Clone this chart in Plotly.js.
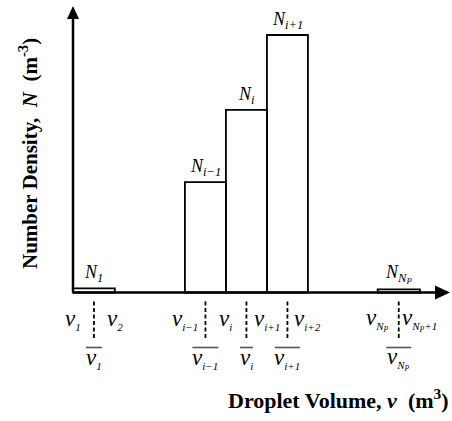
<!DOCTYPE html>
<html>
<head>
<meta charset="utf-8">
<script src="https://cdn.plot.ly/plotly-3.0.1.min.js"></script>
<style>html,body{margin:0;padding:0;background:#fff;}#chart{width:452px;height:421px;}</style>
</head>
<body>
<div id="chart"></div>
<script>
// ---- data (arbitrary units) ----
const binNames   = ['N_1', 'N_{i-1}', 'N_i', 'N_{i+1}', 'N_{N_p}'];
const binLeft    = [0, 2.73, 3.73, 4.73, 7.43];
const binWidth   = [1.02, 1.0, 1.0, 1.0, 1.03];
const binHeight  = [0.16, 4.29, 7.09, 10.0, 0.12];
const edgeX      = [0, 1.02, 2.73, 3.73, 4.73, 5.73, 7.43, 8.46];
const edgeNames  = ['v_1', 'v_2', 'v_{i-1}', 'v_i', 'v_{i+1}', 'v_{i+2}', 'v_{N_p}', 'v_{N_p+1}'];
const meanBins   = [0, 1, 2, 3, 4];            // indices of bins with a mean-volume label
const meanNames  = ['v_1', 'v_{i-1}', 'v_i', 'v_{i+1}', 'v_{N_p}'];

// ---- label html ----
const SUBF = 'font-size:11px';
const labelHtml = {
  'N_1': '<i>N</i><sub><i>1</i></sub>',
  'N_{i-1}': '<i>N</i><sub><i>i−1</i></sub>',
  'N_i': '<i>N</i><sub><i>i</i></sub>',
  'N_{i+1}': '<i>N</i><sub><i>i+1</i></sub>',
  'N_{N_p}': '<i>N</i><sub><i>N</i><sub><i>P</i></sub></sub>',
  'v_1': '<i>v</i><sub><span style="'+SUBF+'"><i>1</i></span></sub>',
  'v_2': '<i>v</i><sub><span style="'+SUBF+'"><i>2</i></span></sub>',
  'v_{i-1}': '<i>v</i><sub><span style="'+SUBF+'"><i>i−1</i></span></sub>',
  'v_i': '<i>v</i><sub><span style="'+SUBF+'"><i>i</i></span></sub>',
  'v_{i+1}': '<i>v</i><sub><span style="'+SUBF+'"><i>i+1</i></span></sub>',
  'v_{i+2}': '<i>v</i><sub><span style="'+SUBF+'"><i>i+2</i></span></sub>',
  'v_{N_p}': '<i>v</i><sub><span style="'+SUBF+'"><i>N</i><sub><i>P</i></sub></span></sub>',
  'v_{N_p+1}': '<i>v</i><sub><span style="'+SUBF+'"><i>N</i><sub><i>P</i></sub><i>+1</i></span></sub>'
};

// ---- geometry of the drawing (pixel mapping) ----
const W = 452, H = 421;
const X0PX = 73, Y0PX = 292.5, PXX = 41, PXY = 25.75;
const xRange = [-X0PX / PXX, (W - X0PX) / PXX];
const yRange = [-(H - Y0PX) / PXY, Y0PX / PXY];
const xTip = (450 - X0PX) / PXX;
const yTip = (Y0PX - 6) / PXY;
const overlineW = [16, 26, 13, 25, 25];

const centers = binLeft.map((l, i) => l + binWidth[i] / 2);

const trace = {
  type: 'bar',
  x: centers,
  y: binHeight,
  width: binWidth,
  base: 0,
  marker: {color: 'rgba(255,255,255,0)', line: {color: '#000', width: 1.8}},
  hoverinfo: 'skip'
};

const FONT = 'Liberation Serif, Times New Roman, serif';
const annotations = [];
binNames.forEach((n, i) => {
  annotations.push({x: centers[i], y: binHeight[i], xref: 'x', yref: 'y', text: labelHtml[n],
    showarrow: false, yanchor: 'bottom', xanchor: 'center', yshift: 1,
    font: {family: FONT, size: 18, color: '#000'}});
});
edgeNames.forEach((n, i) => {
  annotations.push({x: edgeX[i], y: 0, xref: 'x', yref: 'y', text: labelHtml[n],
    showarrow: false, yanchor: 'middle', xanchor: 'center', yshift: -27,
    font: {family: FONT, size: 23, color: '#000'}});
});
meanNames.forEach((n, k) => {
  annotations.push({x: centers[meanBins[k]], y: 0, xref: 'x', yref: 'y', text: labelHtml[n],
    showarrow: false, yanchor: 'middle', xanchor: 'center', yshift: -66,
    font: {family: FONT, size: 23, color: '#000'}});
});
annotations.push({x: 28 / W, y: 1 - 154 / H, xref: 'paper', yref: 'paper', textangle: -90,
  text: '<b>Number Density,&nbsp; <i>N</i>&nbsp; (m<sup>-3</sup>)</b>', showarrow: false,
  xanchor: 'center', yanchor: 'middle', font: {family: FONT, size: 21, color: '#000'}});
annotations.push({x: 451 / W, y: 1 - 415 / H, xref: 'paper', yref: 'paper',
  text: '<b>Droplet Volume, <i>v</i>&nbsp; (m<sup>3</sup>)</b>', showarrow: false,
  xanchor: 'right', yanchor: 'bottom', font: {family: FONT, size: 22, color: '#000'}});

const shapes = [];
// axes with arrowheads
shapes.push({type: 'line', xref: 'x', yref: 'y', x0: 0, y0: 0, x1: xTip - 10 / PXX, y1: 0, line: {color: '#000', width: 2.5}});
shapes.push({type: 'line', xref: 'x', yref: 'y', x0: 0, y0: 0, x1: 0, y1: yTip - 10 / PXY, line: {color: '#000', width: 2.5}});
shapes.push({type: 'path', xref: 'x', yref: 'y', xsizemode: 'pixel', ysizemode: 'pixel', xanchor: xTip, yanchor: 0,
  path: 'M0,0 L-15,7 L-15,-7 Z', fillcolor: '#000', line: {width: 0}});
shapes.push({type: 'path', xref: 'x', yref: 'y', xsizemode: 'pixel', ysizemode: 'pixel', xanchor: 0, yanchor: yTip,
  path: 'M0,0 L-6,-13 L6,-13 Z', fillcolor: '#000', line: {width: 0}});
// dashed centre lines and overlines for mean volumes
meanBins.forEach((b, k) => {
  shapes.push({type: 'line', xref: 'x', yref: 'y', xsizemode: 'pixel', ysizemode: 'pixel',
    xanchor: centers[b], yanchor: 0, x0: 0, x1: 0, y0: -9, y1: -46,
    line: {color: '#000', width: 1.8, dash: '4px,2.5px'}});
  shapes.push({type: 'line', xref: 'x', yref: 'y', xsizemode: 'pixel', ysizemode: 'pixel',
    xanchor: centers[b], yanchor: 0, x0: -overlineW[k] / 2, x1: overlineW[k] / 2, y0: -55, y1: -55,
    line: {color: '#555', width: 1.6}});
});

const layout = {
  width: W, height: H,
  margin: {l: 0, r: 0, t: 0, b: 0},
  paper_bgcolor: '#fff', plot_bgcolor: '#fff',
  showlegend: false,
  xaxis: {range: xRange, visible: false, fixedrange: true},
  yaxis: {range: yRange, visible: false, fixedrange: true},
  annotations: annotations,
  shapes: shapes
};

Plotly.newPlot('chart', [trace], layout, {displayModeBar: false, staticPlot: true});
</script>
</body>
</html>
